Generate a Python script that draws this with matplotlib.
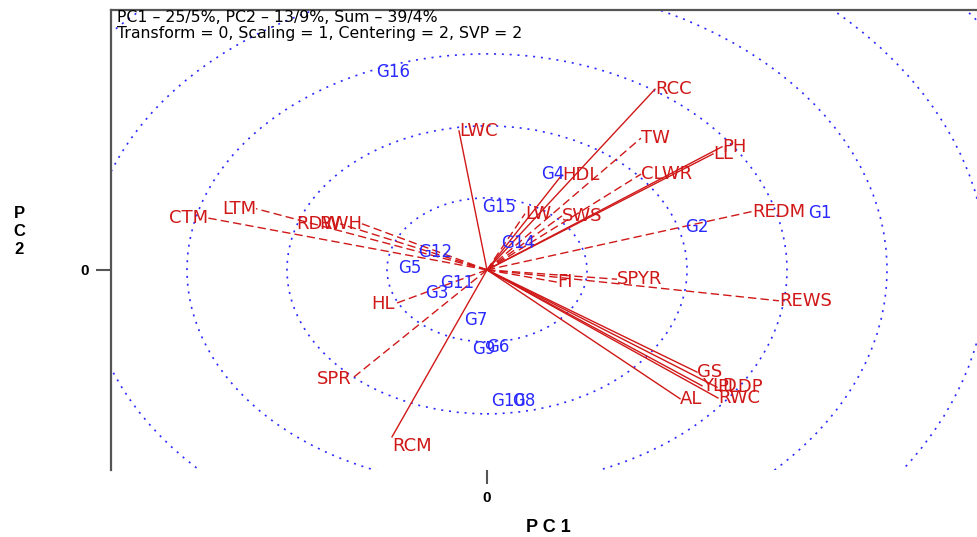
#!/usr/bin/env python3

import matplotlib
matplotlib.use("Agg")
import matplotlib.pyplot as plt
from matplotlib.patches import Circle

# trait vectors (end points, PC1 / PC2)
traits = ['RCC', 'TW', 'PH', 'LL', 'CLWR', 'HDL', 'LW', 'SWS', 'REDM', 'REWS',
          'SPYR', 'FI', 'GS', 'YLD', 'PLDP', 'AL', 'RWC', 'RCM', 'SPR', 'HL',
          'CTM', 'LTM', 'RDW', 'RWH', 'LWC']
trait_pc1 = [1.68, 1.54, 2.35, 2.26, 1.54, 0.75, 0.38, 0.75, 2.65, 2.92,
             1.30, 0.70, 2.10, 2.15, 2.30, 1.93, 2.31, -0.95, -1.35, -0.92,
             -2.79, -2.31, -1.47, -1.25, -0.28]
trait_pc2 = [2.51, 1.83, 1.71, 1.61, 1.33, 1.32, 0.78, 0.75, 0.81, -0.43,
             -0.13, -0.17, -1.42, -1.61, -1.63, -1.79, -1.78, -2.32, -1.51, -0.47,
             0.72, 0.85, 0.64, 0.64, 1.93]
dashed_traits = {'TW', 'CLWR', 'LW', 'SWS', 'REDM', 'REWS', 'SPYR', 'FI',
                 'SPR', 'HL', 'CTM', 'LTM', 'RDW', 'RWH'}

# genotype scores
genos = ['G1', 'G2', 'G3', 'G4', 'G5', 'G6', 'G7', 'G8', 'G9', 'G10',
         'G11', 'G12', 'G14', 'G15', 'G16']
geno_pc1 = [3.33, 2.10, -0.50, 0.66, -0.77, 0.11, -0.11, 0.37, -0.03, 0.21,
            -0.30, -0.52, 0.31, 0.12, -0.94]
geno_pc2 = [0.79, 0.60, -0.32, 1.33, 0.03, -1.07, -0.69, -1.82, -1.10, -1.82,
            -0.18, 0.25, 0.38, 0.88, 2.75]

radii = [1, 2, 3, 4, 5, 6]

title_lines = ['PC1 \u2013 25/5%, PC2 \u2013 13/9%, Sum \u2013 39/4%',
               'Transform = 0, Scaling = 1, Centering = 2, SVP = 2']

red = '#d01818'
blue = '#2a2aff'

fig = plt.figure(figsize=(9.78, 5.37), dpi=100)
ax = fig.add_axes([0.1135, 0.1248, 0.909, 0.8566])
ax.set_xlim(-3.76, 5.13)
ax.set_ylim(-2.78, 3.61)

for r in radii:
  ax.add_patch(Circle((0, 0), r, fill=False, ec=blue, lw=1.2,
                      ls=(0, (1.2, 3.5))))

for name, x, y in zip(traits, trait_pc1, trait_pc2):
  ls = (0, (6, 3)) if name in dashed_traits else '-'
  ax.plot([0, x], [0, y], color=red, lw=1.0, ls=ls)
  # place label next to the vector end
  px = abs(x) * 100
  py = abs(y) * 72
  if px < py:
    ha = 'left'
    va = 'center' if y > 0 else 'top'
  else:
    ha = 'left' if x > 0 else 'right'
    va = 'center'
  ax.text(x, y, name, color=red, fontsize=13, ha=ha, va=va,
          family='DejaVu Sans')

for name, x, y in zip(genos, geno_pc1, geno_pc2):
  ax.text(x, y, name, color=blue, fontsize=12, ha='center', va='center',
          family='DejaVu Sans')

for s in ['right', 'bottom']:
  ax.spines[s].set_visible(False)
for s in ['left', 'top']:
  ax.spines[s].set_color('#555555')
  ax.spines[s].set_linewidth(1.6)

ax.set_xticks([0])
ax.set_yticks([0])
ax.set_xticklabels(['0'], fontweight='bold', fontsize=11, family='Liberation Sans')
ax.set_yticklabels(['0'], fontweight='bold', fontsize=11, family='Liberation Sans')
ax.tick_params(axis='y', length=11, width=1.5, color='#555555', pad=5)
ax.tick_params(axis='x', length=10, width=1.5, color='#555555', pad=5)

fig.text(117 / 978, 1 - 10 / 537, '\n'.join(title_lines), ha='left', va='top',
         fontsize=11.3, family='DejaVu Sans', linespacing=1.05)

fig.text(19 / 978, 1 - 232 / 537, 'P\nC\n2', ha='center', va='center',
         fontsize=12, fontweight='bold', family='Liberation Sans', linespacing=1.25)
fig.text(548 / 978, 1 - 528 / 537, 'P C 1', ha='center', va='center',
         fontsize=13, fontweight='bold', family='Liberation Sans')

plt.savefig('out.png', dpi=100)
